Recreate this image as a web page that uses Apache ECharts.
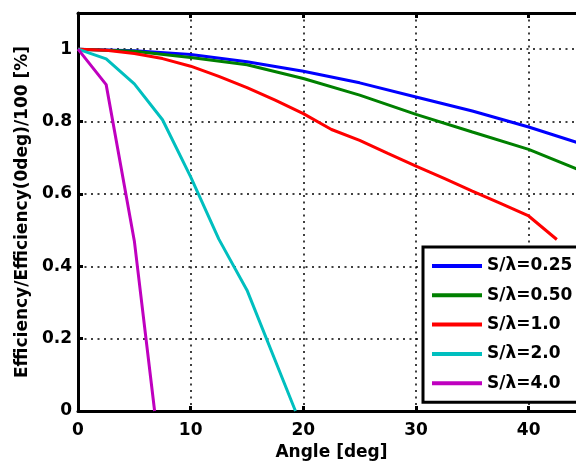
<!DOCTYPE html>
<html>
<head>
<meta charset="utf-8">
<script src="https://cdn.jsdelivr.net/npm/echarts@6/dist/echarts.min.js"></script>
<style>html,body{margin:0;padding:0;background:#fff;}#c{width:576px;height:466px;}</style>
</head>
<body>
<div id="c"></div>
<script>
var xTicks = [0, 10, 20, 30, 40];
var yTicks = [0, 0.2, 0.4, 0.6, 0.8, 1];

var names = ['S/\u03bb=0.25', 'S/\u03bb=0.50', 'S/\u03bb=1.0', 'S/\u03bb=2.0', 'S/\u03bb=4.0'];

var angles025 = [0, 5, 10, 15, 20, 25, 30, 35, 40, 45];
var eff025 = [1, 0.996, 0.985, 0.965, 0.939, 0.907, 0.868, 0.829, 0.785, 0.735];

var angles050 = [0, 5, 10, 15, 20, 25, 30, 35, 40, 45];
var eff050 = [1, 0.994, 0.977, 0.957, 0.919, 0.873, 0.820, 0.771, 0.723, 0.660];

var angles10 = [0, 2.5, 5, 7.5, 10, 12.5, 15, 17.5, 20, 22.5, 25, 27.5, 30, 32.5, 35, 37.5, 40, 42.5];
var eff10 = [1, 0.997, 0.988, 0.974, 0.953, 0.925, 0.894, 0.859, 0.822, 0.778, 0.748, 0.712, 0.677, 0.643, 0.608, 0.574, 0.539, 0.474];

var angles20 = [0, 2.5, 5, 7.5, 10, 12.5, 15, 19.3];
var eff20 = [1, 0.973, 0.904, 0.805, 0.647, 0.475, 0.334, 0];

var angles40 = [0, 2.5, 5, 6.8];
var eff40 = [1, 0.902, 0.47, 0];

var colors = ['#0000ff', '#008000', '#ff0000', '#00bfbf', '#bf00bf'];

function pairs(xs, ys) { return xs.map(function (x, i) { return [x, ys[i]]; }); }
var seriesData = [pairs(angles025, eff025), pairs(angles050, eff050), pairs(angles10, eff10), pairs(angles20, eff20), pairs(angles40, eff40)];

var FONT = '"DejaVu Sans", Verdana, sans-serif';
var chart = echarts.init(document.getElementById('c'), null, {renderer: 'canvas'});

var dotted = {show: true, lineStyle: {color: '#000', width: 1.5, type: [2, 4.5]}};

chart.setOption({
  animation: false,
  backgroundColor: '#fff',
  grid: {left: 78, top: 13, right: -9, bottom: 55, containLabel: false, outerBoundsMode: 'none'},
  legend: {
    orient: 'vertical',
    left: 423, top: 247,
    backgroundColor: '#fff',
    borderColor: '#000', borderWidth: 3, borderRadius: 0,
    padding: [9, 30, 9, 9],
    icon: 'rect', itemWidth: 50, itemHeight: 4, itemGap: 9.3,
    textStyle: {fontFamily: FONT, fontWeight: 'bold', fontSize: 17, color: '#000', lineHeight: 20, padding: [0, 0, 0, 0]},
    data: names
  },
  xAxis: [{
    type: 'value', min: 0, max: 45, interval: 10,
    name: 'Angle [deg]', nameLocation: 'middle', nameGap: 32,
    nameTextStyle: {fontFamily: FONT, fontWeight: 'bold', fontSize: 17, color: '#000'},
    axisLine: {show: true, onZero: false, lineStyle: {color: '#000', width: 3}},
    axisTick: {show: true, inside: true, length: 5, lineStyle: {color: '#000', width: 3}},
    axisLabel: {show: true, margin: 11, fontFamily: FONT, fontWeight: 'bold', fontSize: 17, color: '#000', showMaxLabel: false,
      formatter: function (v) { return xTicks.indexOf(v) >= 0 ? String(v) : ''; }},
    splitLine: dotted
  }, {
    type: 'value', min: 0, max: 45, interval: 10, position: 'top',
    axisLine: {show: true, onZero: false, lineStyle: {color: '#000', width: 3}},
    axisTick: {show: true, inside: true, length: 5, lineStyle: {color: '#000', width: 3}},
    axisLabel: {show: false}, splitLine: {show: false}
  }],
  yAxis: [{
    type: 'value', min: 0, max: 1.1, interval: 0.2,
    name: 'Efficiency/Efficiency(0deg)/100 [%]', nameLocation: 'middle', nameGap: 41,
    nameTextStyle: {fontFamily: FONT, fontWeight: 'bold', fontSize: 17, color: '#000'},
    axisLine: {show: true, onZero: false, lineStyle: {color: '#000', width: 3}},
    axisTick: {show: true, inside: true, length: 5, lineStyle: {color: '#000', width: 3}},
    axisLabel: {show: true, margin: 6, fontFamily: FONT, fontWeight: 'bold', fontSize: 17, color: '#000', showMaxLabel: false,
      formatter: function (v) { var r = Math.round(v * 10) / 10; return yTicks.indexOf(r) >= 0 ? String(r) : ''; }},
    splitLine: dotted
  }],
  series: names.map(function (n, i) {
    return {
      name: n, type: 'line', data: seriesData[i], showSymbol: false, symbol: 'none',
      color: colors[i], lineStyle: {color: colors[i], width: 3}
    };
  })
});
</script>
</body>
</html>
